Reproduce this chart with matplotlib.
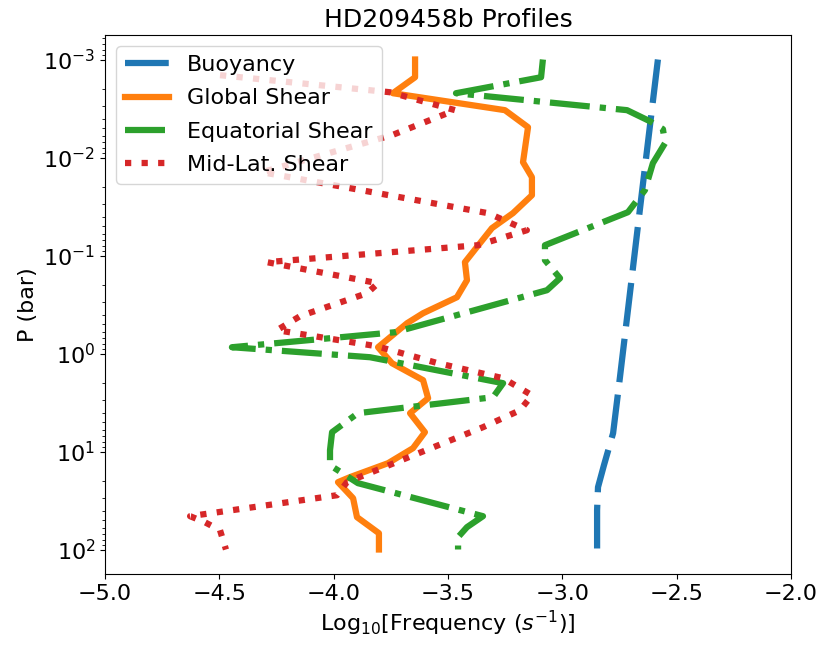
import matplotlib
matplotlib.use("Agg")
import matplotlib.pyplot as plt
import numpy as np

# log10 of pressure (bar) and log10 frequency for each profile
logp_buoy = [-3.0, -1.564, 0.242, 0.813, 1.14, 1.364, 1.599, 2.0]
freq_buoy = [-2.582, -2.656, -2.748, -2.778, -2.818, -2.844, -2.848, -2.848]

logp_global = [-3.0, -2.819, -2.656, -2.483, -2.309, -1.952, -1.799, -1.615,
               -1.432, -1.279, -0.932, -0.748, -0.574, -0.411, -0.309, -0.064,
               0.099, 0.272, 0.456, 0.609, 0.803, 0.966, 1.119, 1.262, 1.313,
               1.477, 1.670, 1.834, 2.0]
freq_global = [-3.644, -3.644, -3.741, -3.251, -3.150, -3.172, -3.133, -3.133,
               -3.216, -3.308, -3.426, -3.417, -3.461, -3.609, -3.679, -3.806,
               -3.745, -3.609, -3.587, -3.666, -3.601, -3.653, -3.762, -3.929,
               -3.981, -3.915, -3.898, -3.802, -3.802]

logp_eq = [-3.0, -2.819, -2.656, -2.483, -2.370, -2.289, -2.146, -1.942,
           -1.666, -1.442, -1.105, -0.952, -0.768, -0.646, -0.217, -0.064,
           0.038, 0.303, 0.446, 0.609, 0.803, 0.987, 1.14, 1.323, 1.660,
           1.772, 1.874, 2.0]
freq_eq = [-3.085, -3.093, -3.465, -2.717, -2.617, -2.560, -2.551, -2.604,
           -2.639, -2.713, -3.076, -3.076, -3.010, -3.067, -3.732, -4.445,
           -3.841, -3.259, -3.303, -3.894, -4.007, -4.016, -4.016, -3.894,
           -3.347, -3.417, -3.456, -3.456]

logp_mid = [-2.840, -2.666, -2.483, -2.228, -1.850, -1.432, -1.258, -1.105,
            -0.932, -0.717, -0.615, -0.381, -0.238, -0.074, 0.099, 0.252,
            0.426, 0.579, 0.752, 1.313, 1.446, 1.660, 1.722, 1.803, 2.0]
freq_mid = [-4.497, -3.754, -3.469, -3.745, -4.313, -3.325, -3.155, -3.369,
            -4.292, -3.806, -3.854, -4.147, -4.248, -3.811, -3.544, -3.259,
            -3.133, -3.185, -3.347, -3.942, -3.985, -4.628, -4.563, -4.497,
            -4.471]

lw = 4.5

fig = plt.figure(figsize=(8.31, 6.47), dpi=100)
ax = fig.add_axes([105 / 831, 1 - 574 / 647, 686 / 831, 539 / 647])

ax.plot(freq_buoy, np.power(10.0, logp_buoy), color="C0", lw=lw,
        dashes=(7, 2), label="Buoyancy")
ax.plot(freq_global, np.power(10.0, logp_global), color="C1", lw=lw,
        label="Global Shear")
ax.plot(freq_eq, np.power(10.0, logp_eq), color="C2", lw=lw, ls="-.",
        label="Equatorial Shear")
ax.plot(freq_mid, np.power(10.0, logp_mid), color="C3", lw=lw, ls=":",
        label="Mid-Lat. Shear")

ax.set_yscale("log")
ax.invert_yaxis()
ax.set_xlim(-5.0, -2.0)
ax.set_xticks([-5.0, -4.5, -4.0, -3.5, -3.0, -2.5, -2.0])
ax.tick_params(labelsize=16)

ax.set_xlabel(r"Log$_{10}$[Frequency ($s^{-1}$)]", fontsize=16)
ax.set_ylabel("P (bar)", fontsize=16)
ax.set_title("HD209458b Profiles", fontsize=18)
ax.legend(loc="upper left", fontsize=16, labelspacing=0.6)

fig.savefig("out.png", dpi=100)
